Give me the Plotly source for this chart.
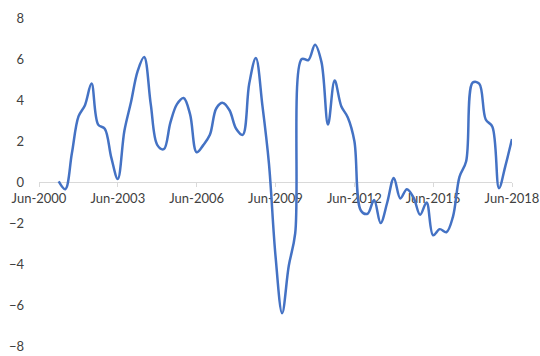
import plotly.graph_objects as go
import pandas as pd

# Quarterly observations, Mar-2001 .. Jun-2018
dates = pd.date_range("2001-03-31", "2018-06-30", freq="QE")
values = [
    0.03, -0.35, 1.4, 3.2, 3.75, 4.8, 2.8, 2.6, 1.2, 0.15,
    2.5, 3.9, 5.4, 6.1, 3.8, 1.8, 1.6, 2.9, 3.8, 4.1,
    3.3, 1.45, 1.8, 2.3, 3.6, 3.86, 3.5, 2.6, 2.3, 4.8,
    6.05, 3.7, 0.9, -3.6, -6.4, -4.1, -2.5, 6.0, 5.95, 6.7,
    5.85, 2.8, 4.95, 3.7, 3.15, 2.0, -1.4, -1.55, -0.88, -2.0,
    -1.0, 0.2, -0.8, -0.35, -0.75, -1.6, -1.0, -2.6, -2.3, -2.45,
    -1.7, 0.25, 1.0, 4.85, 4.8, 3.05, 2.7, -0.3, 0.8, 2.1,
]
tick_dates = ["2000-06-30", "2003-06-30", "2006-06-30", "2009-06-30",
              "2012-06-30", "2015-06-30", "2018-06-30"]
tick_labels = ["Jun-2000", "Jun-2003", "Jun-2006", "Jun-2009",
               "Jun-2012", "Jun-2015", "Jun-2018"]
y_ticks = [-8, -6, -4, -2, 0, 2, 4, 6, 8]

fig = go.Figure()
fig.add_trace(go.Scatter(
    x=dates, y=values, mode="lines",
    line=dict(color="#4472C4", width=2.5, shape="spline", smoothing=1.0),
    showlegend=False, hoverinfo="skip",
))

font_color = "#404040"
fig.update_layout(
    width=540, height=356,
    margin=dict(l=39, r=28, t=17, b=9),
    plot_bgcolor="white", paper_bgcolor="white",
    font=dict(family="Lato", size=13, color=font_color),
    xaxis=dict(
        type="date",
        range=[tick_dates[0], tick_dates[-1]],
        tickmode="array", tickvals=tick_dates, ticktext=tick_labels,
        anchor="free", position=0.5,
        showline=True, linecolor="#d9d9d9", linewidth=1,
        ticks="outside", ticklen=4, tickcolor="#d9d9d9",
        showgrid=False, zeroline=False, automargin=False,
        layer="below traces", ticklabeloverflow="allow",
        tickfont=dict(family="Lato", size=13, color=font_color),
    ),
    yaxis=dict(
        range=[-8.05, 8.05],
        tickmode="array", tickvals=y_ticks,
        showline=False, showgrid=False, zeroline=False,
        ticks="", ticklabelstandoff=14, ticklabeloverflow="allow",
        automargin=False,
        tickfont=dict(family="Lato", size=13, color=font_color),
    ),
)

fig.write_html("out.html")
